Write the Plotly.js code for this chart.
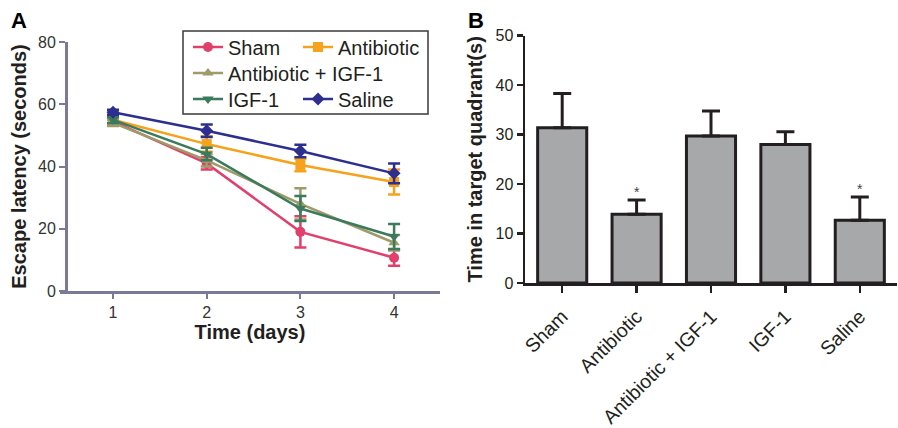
<!DOCTYPE html>
<html>
<head>
<meta charset="utf-8">
<script src="https://cdn.plot.ly/plotly-3.0.1.min.js"></script>
<style>html,body{margin:0;padding:0;background:#fff;}#chart{width:898px;height:428px;}</style>
</head>
<body>
<div id="chart"></div>
<script>
// ---- Panel A data: escape latency (seconds) by day ----
const days = [1, 2, 3, 4];
const groupNames = ['Sham', 'Antibiotic', 'Antibiotic + IGF-1', 'IGF-1', 'Saline'];
const shamLatency = [54.5, 41.0, 19.0, 10.7];
const shamErr = [1.0, 2.0, 5.0, 2.6];
const antibioticLatency = [55.0, 47.2, 40.5, 35.0];
const antibioticErr = [1.2, 2.5, 2.0, 4.0];
const antiIgfLatency = [54.0, 42.0, 28.0, 15.5];
const antiIgfErr = [1.0, 2.0, 5.0, 2.5];
const igfLatency = [55.0, 44.0, 26.5, 17.5];
const igfErr = [1.0, 2.0, 4.0, 4.0];
const salineLatency = [57.4, 51.5, 45.0, 37.8];
const salineErr = [0.8, 2.0, 2.0, 3.2];

// ---- Panel B data: time in target quadrant (s) ----
const barCategories = ['Sham', 'Antibiotic', 'Antibiotic + IGF-1', 'IGF-1', 'Saline'];
const quadrantTime = [31.4, 13.9, 29.7, 28.0, 12.7];
const quadrantErr = [6.9, 2.9, 5.1, 2.6, 4.7];
const sigMarks = ['', '*', '', '', '*'];

const FONT = 'Liberation Sans, Arial, Helvetica, sans-serif';
const W = 898, H = 428;
const px = v => v / W;
const py = v => 1 - v / H;

const lineSeries = [
  {y: shamLatency, e: shamErr, color: '#e1406c', symbol: 'circle'},
  {y: antibioticLatency, e: antibioticErr, color: '#f6a21c', symbol: 'square'},
  {y: antiIgfLatency, e: antiIgfErr, color: '#9f9b69', symbol: 'triangle-up'},
  {y: igfLatency, e: igfErr, color: '#3b7a5c', symbol: 'triangle-down'},
  {y: salineLatency, e: salineErr, color: '#2c2f8e', symbol: 'diamond'}
];
const legendIds = ['legend', 'legend2', 'legend3', 'legend4', 'legend5'];
// legend slot positions (col x, row y in pixels)
const legendSlots = [[188, 47], [298, 47], [188, 73], [188, 99], [298, 99]];

const traces = lineSeries.map((s, i) => ({
  type: 'scatter', mode: 'lines+markers',
  x: days, y: s.y, name: groupNames[i],
  xaxis: 'x', yaxis: 'y',
  line: {color: s.color, width: 2.5},
  marker: {color: s.color, symbol: s.symbol, size: 10},
  error_y: {type: 'data', array: s.e, visible: true, color: s.color, thickness: 2.5, width: 6},
  legend: legendIds[i]
}));

traces.push({
  type: 'bar', x: barCategories, y: quadrantTime,
  xaxis: 'x2', yaxis: 'y2', showlegend: false,
  marker: {color: '#a7a8aa', line: {color: '#231f20', width: 3}},
  error_y: {type: 'data', symmetric: false, array: quadrantErr, arrayminus: quadrantErr.map(() => 0),
            visible: true, color: '#231f20', thickness: 3, width: 9}
});

const layout = {
  width: W, height: H,
  margin: {l: 0, r: 0, t: 0, b: 0},
  paper_bgcolor: '#fff', plot_bgcolor: 'rgba(0,0,0,0)',
  font: {family: FONT, color: '#231f20', size: 16},
  showlegend: true,
  bargap: 0.34,
  xaxis: {
    domain: [px(60), px(440)], range: [0.434, 4.49], anchor: 'y',
    tickvals: days, ticks: 'outside', ticklen: 5, tickwidth: 2, tickcolor: '#7a7a98',
    showline: true, linecolor: '#7a7a98', linewidth: 2.5, showgrid: false, zeroline: false,
    tickfont: {size: 16, color: '#333'},
    title: {text: '<b>Time (days)</b>', font: {size: 20, color: '#231f20'}, standoff: 6}
  },
  yaxis: {
    domain: [py(291), py(42)], range: [0, 80], anchor: 'free', position: px(66),
    tickvals: [0, 20, 40, 60, 80], ticks: 'outside', ticklen: 6, tickwidth: 2, tickcolor: '#7a7a98',
    showline: true, linecolor: '#7a7a98', linewidth: 2.5, showgrid: false, zeroline: false,
    tickfont: {size: 16, color: '#333'},
    title: {text: '<b>Escape latency (seconds)</b>', font: {size: 20, color: '#231f20'}, standoff: 5}
  },
  xaxis2: {
    domain: [px(525), px(897)], range: [-0.5, 4.5], anchor: 'y2', type: 'category',
    ticks: 'outside', ticklen: 7, tickwidth: 2.5, tickcolor: '#231f20', tickangle: -45,
    ticklabelstandoff: 5,
    showline: true, linecolor: '#231f20', linewidth: 2.5, showgrid: false, zeroline: false,
    tickfont: {size: 19.5, color: '#231f20'}
  },
  yaxis2: {
    domain: [py(283), py(35.7)], range: [0, 50], anchor: 'x2',
    tickvals: [0, 10, 20, 30, 40, 50], ticks: 'outside', ticklen: 6, tickwidth: 2.5, tickcolor: '#231f20',
    showline: true, linecolor: '#231f20', linewidth: 2.5, showgrid: false, zeroline: false,
    tickfont: {size: 16, color: '#231f20'},
    title: {text: '<b>Time in target quadrant(s)</b>', font: {size: 20, color: '#231f20'}, standoff: 8}
  },
  shapes: [{
    type: 'rect', xref: 'paper', yref: 'paper',
    x0: px(183), x1: px(428), y0: py(114), y1: py(31),
    line: {color: '#3a3a3a', width: 1.5}, fillcolor: 'rgba(0,0,0,0)'
  }],
  annotations: [
    {text: '<b>A</b>', xref: 'paper', yref: 'paper', x: px(9), y: py(6), xanchor: 'left', yanchor: 'top',
     showarrow: false, font: {size: 22, color: '#000'}},
    {text: '<b>B</b>', xref: 'paper', yref: 'paper', x: px(466), y: py(6), xanchor: 'left', yanchor: 'top',
     showarrow: false, font: {size: 22, color: '#000'}}
  ]
};

barCategories.forEach((c, i) => {
  if (sigMarks[i]) {
    layout.annotations.push({
      text: sigMarks[i], xref: 'x2', yref: 'y2', x: c, y: quadrantTime[i] + quadrantErr[i],
      xanchor: 'center', yanchor: 'bottom', yshift: -2, showarrow: false,
      font: {size: 14, color: '#444'}
    });
  }
});

legendIds.forEach((id, i) => {
  layout[id] = {
    x: px(legendSlots[i][0]), y: py(legendSlots[i][1]), xanchor: 'left', yanchor: 'middle',
    xref: 'paper', yref: 'paper',
    bgcolor: 'rgba(0,0,0,0)', borderwidth: 0,
    font: {family: FONT, size: 20, color: '#231f20'}
  };
});

Plotly.newPlot('chart', traces, layout, {displayModeBar: false, staticPlot: true});
</script>
</body>
</html>
